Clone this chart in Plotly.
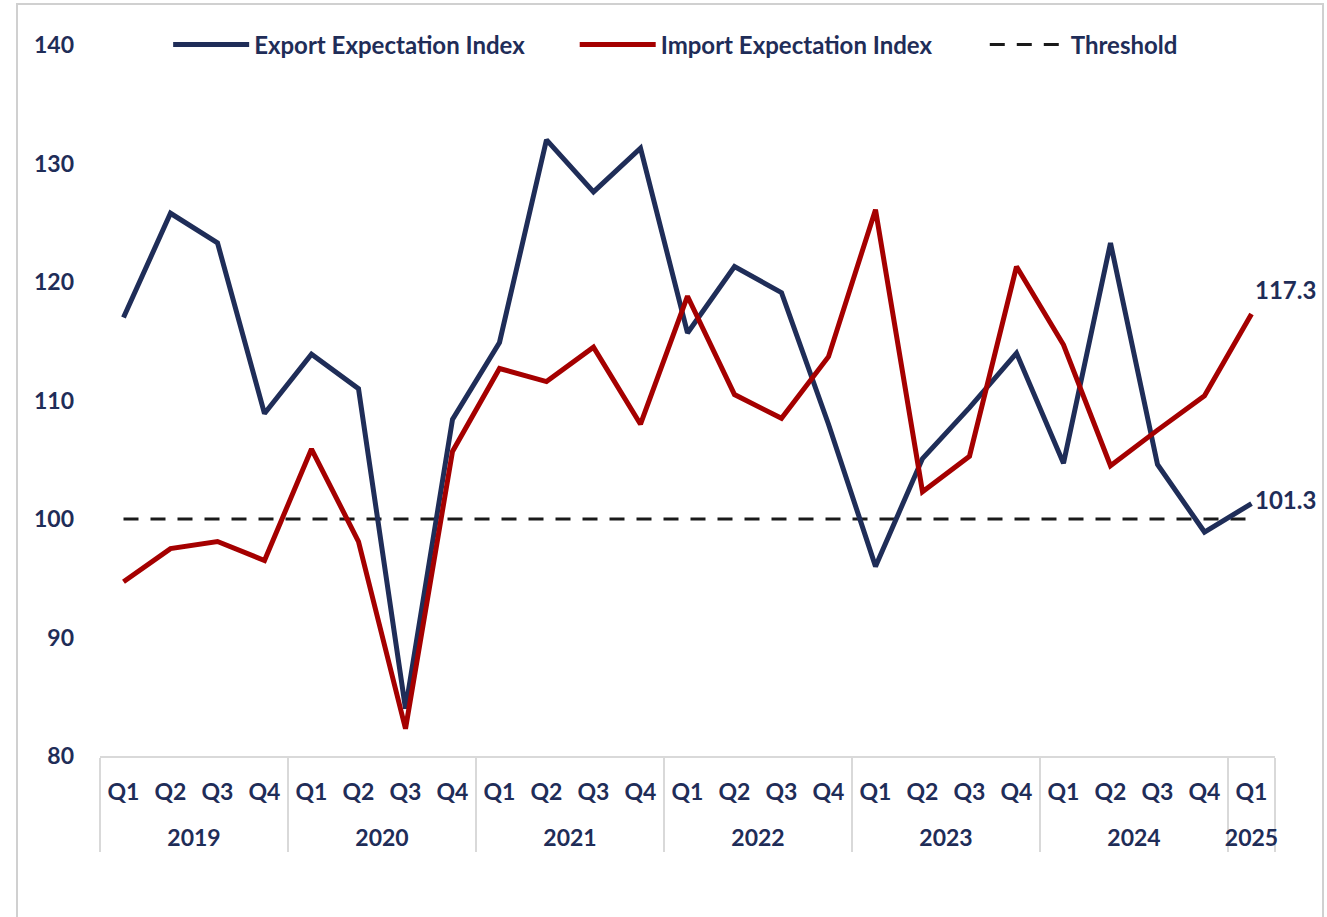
import plotly.graph_objects as go

# Quarterly survey periods, 2019 Q1 to 2025 Q1
years = ["2019"] * 4 + ["2020"] * 4 + ["2021"] * 4 + ["2022"] * 4 + ["2023"] * 4 + ["2024"] * 4 + ["2025"]
quarters = ["Q1", "Q2", "Q3", "Q4"] * 6 + ["Q1"]

export_index = [117.0, 125.8, 123.3, 108.9,
                113.9, 111.0, 84.0, 108.4,
                114.9, 132.0, 127.6, 131.3,
                115.7, 121.3, 119.1, 108.0,
                96.0, 105.1, 109.4, 114.0,
                104.7, 123.3, 104.6, 98.9,
                101.3]
import_index = [94.7, 97.5, 98.1, 96.5,
                105.9, 98.1, 82.3, 105.7,
                112.7, 111.6, 114.5, 108.0,
                118.8, 110.5, 108.5, 113.7,
                126.1, 102.3, 105.3, 121.3,
                114.7, 104.5, 107.5, 110.4,
                117.3]
threshold = [100] * len(quarters)

NAVY = "#1F2D58"
RED = "#A50000"
FONT = "Lato"
N = len(quarters)

# year label pushed onto a second line below the quarter row
year_labels = ["<br>" + y for y in years]
x = [year_labels, quarters]

fig = go.Figure()

fig.add_trace(go.Scatter(
    x=x, y=threshold, name="Threshold", mode="lines",
    line=dict(color="#1A1A1A", width=3, dash="15px,12px"),
    legend="legend3", hoverinfo="skip",
))
fig.add_trace(go.Scatter(
    x=x, y=export_index, name="Export Expectation Index", mode="lines",
    line=dict(color=NAVY, width=5), legend="legend",
))
fig.add_trace(go.Scatter(
    x=x, y=import_index, name="Import Expectation Index", mode="lines",
    line=dict(color=RED, width=5), legend="legend2",
))

# value labels on the latest quarter
last_x = (N - 1 + 0.5) / N
label_font = dict(family=FONT, size=24, color=NAVY, weight="bold")
fig.add_annotation(x=last_x, xref="paper", y=import_index[-1], yref="y",
                   text=f"{import_index[-1]:.1f}", showarrow=False,
                   xanchor="left", yanchor="bottom", xshift=1, yshift=8,
                   font=label_font)
fig.add_annotation(x=last_x, xref="paper", y=export_index[-1], yref="y",
                   text=f"{export_index[-1]:.1f}", showarrow=False,
                   xanchor="left", yanchor="middle", xshift=1, yshift=4,
                   font=label_font)

legend_common = dict(
    orientation="h", y=1.0, yanchor="middle", xanchor="left",
    font=dict(family=FONT, size=24, color=NAVY, weight="bold"),
    itemwidth=76, bgcolor="rgba(0,0,0,0)",
)

fig.update_layout(
    width=1327, height=917,
    margin=dict(l=100, r=52, t=45, b=161),
    paper_bgcolor="white", plot_bgcolor="white",
    font=dict(family=FONT, size=22, color=NAVY, weight="bold"),
    showlegend=True,
    legend=dict(x=0.058, **legend_common),
    legend2=dict(x=0.404, **legend_common),
    legend3=dict(x=0.753, **legend_common),
    xaxis=dict(
        type="multicategory", range=[-0.5, N - 0.5],
        showline=True, linecolor="#D9D9D9", linewidth=2,
        showgrid=False, ticks="", showdividers=True,
        dividercolor="#D9D9D9", dividerwidth=2,
        ticklabelstandoff=14,
        tickfont=dict(family=FONT, size=23, color=NAVY, weight="bold"),
    ),
    yaxis=dict(
        range=[80, 140], dtick=10, showgrid=False, zeroline=False,
        showline=False, ticks="", ticklabelstandoff=25,
        tickfont=dict(family=FONT, size=23, color=NAVY, weight="bold"),
    ),
    shapes=[dict(
        type="rect", xref="paper", yref="paper",
        x0=-83 / 1175, x1=1223 / 1175, y0=-0.4, y1=1 + 41 / 711,
        line=dict(color="#D0D0D0", width=2), fillcolor="rgba(0,0,0,0)",
        layer="below",
    )],
)

fig.write_html("out.html")
